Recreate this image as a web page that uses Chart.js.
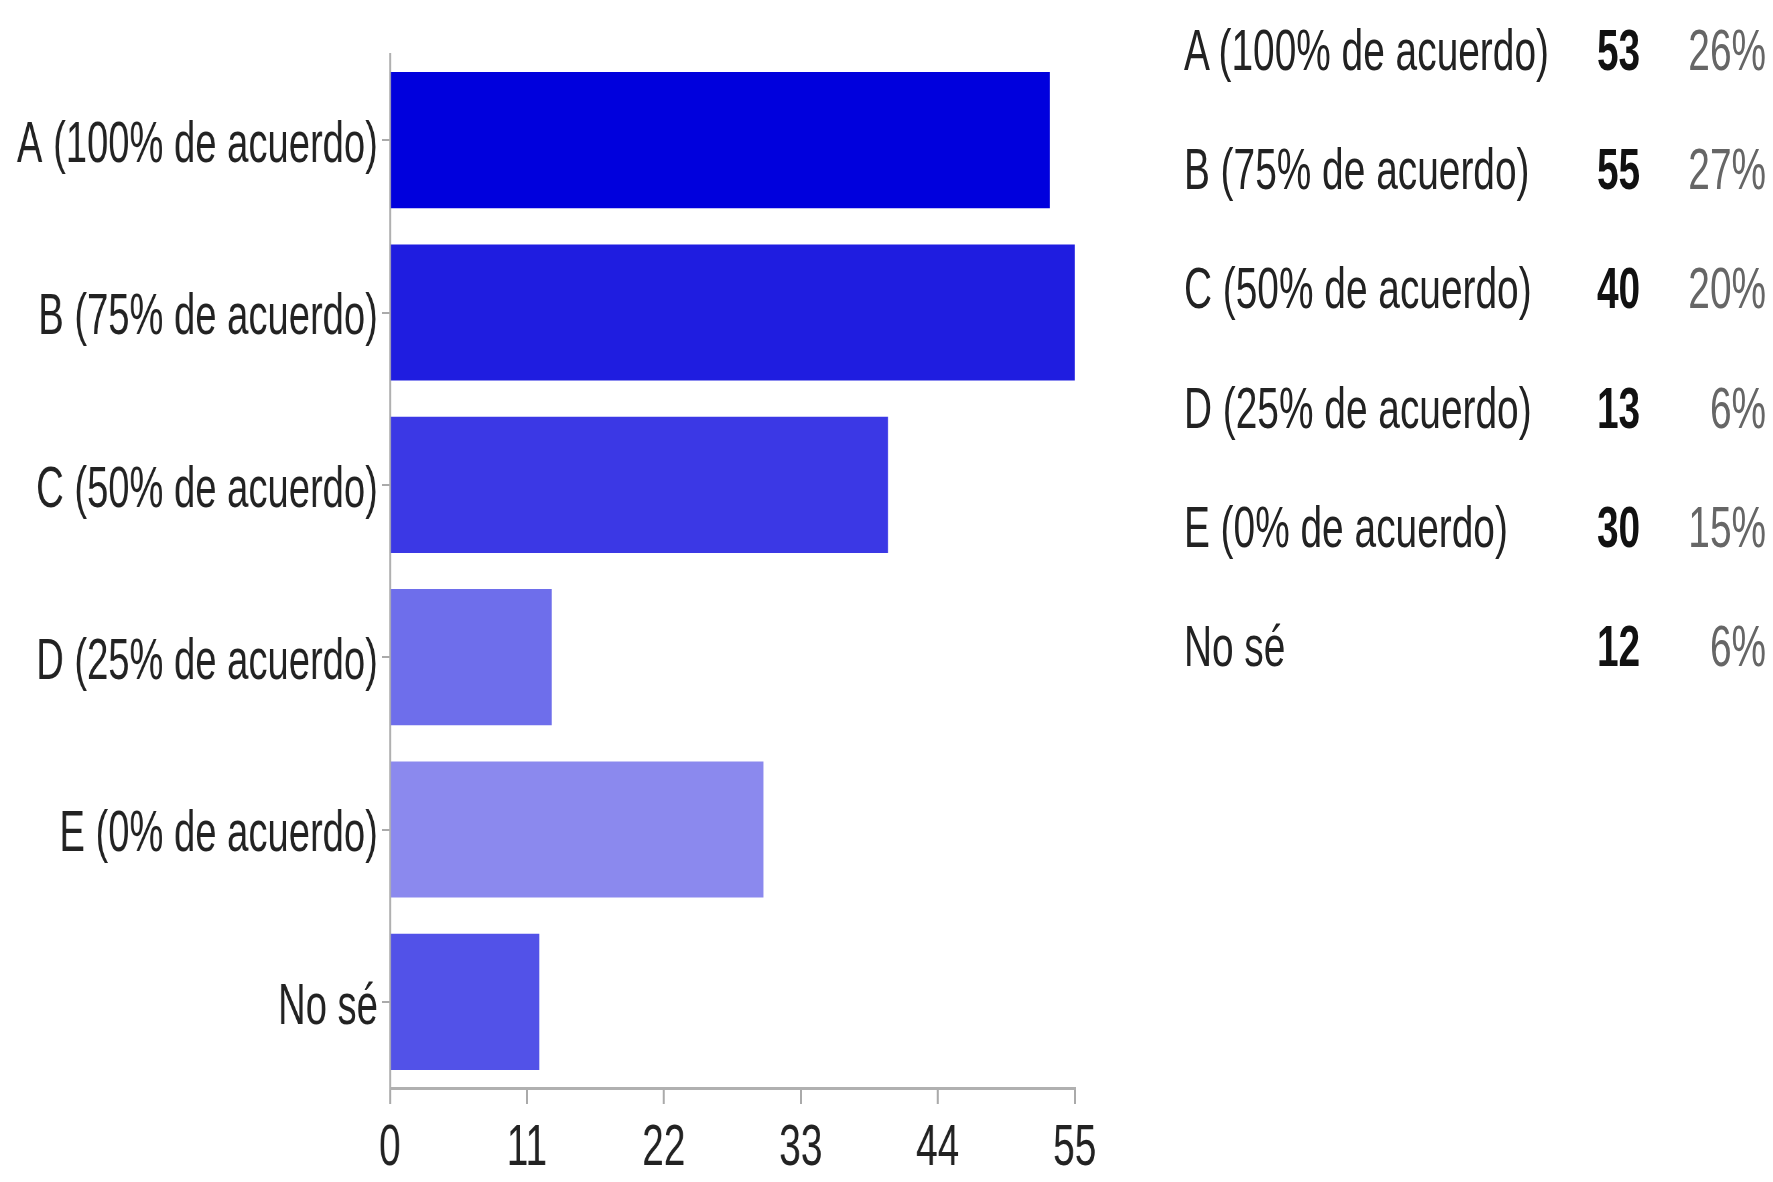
<!DOCTYPE html>
<html>
<head>
<meta charset="utf-8">
<script src="https://cdn.jsdelivr.net/npm/chart.js@4.4.0/dist/chart.umd.min.js"></script>
<style>
html, body { margin:0; padding:0; background:#fff; overflow:hidden; }
#page { position:absolute; left:0; top:0; width:2646px; height:1182px; transform:scaleX(0.67); transform-origin:0 0; font-family:"Liberation Sans", Arial, sans-serif; }
#myChart { position:absolute; left:0; top:0; }
.cell { position:absolute; height:70px; line-height:70px; font-size:58px; white-space:nowrap; }
.lbl { color:#222; }
.cnt { color:#111; font-weight:bold; text-align:right; width:148px; }
.pct { color:#666; text-align:right; width:156px; }
</style>
</head>
<body>
<div id="page">
    <canvas id="myChart" width="1700" height="1182"></canvas>
    <div id="table"></div>
</div>
<script>
var labels = ['A (100% de acuerdo)', 'B (75% de acuerdo)', 'C (50% de acuerdo)', 'D (25% de acuerdo)', 'E (0% de acuerdo)', 'No sé'];
var counts = [53, 55, 40, 13, 30, 12];
var percents = ['26%', '27%', '20%', '6%', '15%', '6%'];
var barColors = ['#0000dd', '#1f1de0', '#3b38e5', '#6e6eeb', '#8b89ee', '#5252e8'];
var xTicks = [0, 11, 22, 33, 44, 55];

var fontFamily = '"Liberation Sans", Arial, sans-serif';
var myChart;

function buildTable() {
    var table = document.getElementById('table');
    for (var i = 0; i < labels.length; i++) {
        var top = 50 + i * 119.2 - 35;
        table.innerHTML +=
              '<div class="cell lbl" style="left:1767px;top:' + top + 'px">' + labels[i] + '</div>'
            + '<div class="cell cnt" style="left:2300px;top:' + top + 'px">' + counts[i] + '</div>'
            + '<div class="cell pct" style="left:2480px;top:' + top + 'px">' + percents[i] + '</div>';
    }
}

function showChart() {
    var ctx = document.getElementById('myChart');
    myChart = new Chart(ctx, {
        type: 'bar',
        data: {
            labels: labels,
            datasets: [{
                data: counts,
                backgroundColor: barColors,
                borderWidth: 0,
                barPercentage: 0.79,
                categoryPercentage: 1
            }]
        },
        options: {
            indexAxis: 'y',
            responsive: false,
            animation: false,
            devicePixelRatio: 1,
            layout: { padding: { top: 54, right: 96, left: 0, bottom: 0 } },
            plugins: { legend: { display: false }, tooltip: { enabled: false } },
            scales: {
                x: {
                    min: 0,
                    max: 55,
                    afterBuildTicks: function(scale) {
                        scale.ticks = xTicks.map(function(v) { return { value: v }; });
                    },
                    afterFit: function(scale) { scale.height = 94; },
                    grid: { drawOnChartArea: false, drawTicks: true, tickLength: 16, color: '#aaa', lineWidth: 3 },
                    border: { color: '#b0b0b0', width: 3 },
                    ticks: { font: { size: 58, family: fontFamily }, color: '#222', padding: 10, maxRotation: 0, autoSkip: false }
                },
                y: {
                    afterFit: function(scale) { scale.width = 582; },
                    grid: { drawOnChartArea: false, offset: false, tickLength: 12, color: '#aaa', lineWidth: 2 },
                    border: { color: '#b0b0b0', width: 3 },
                    ticks: { font: { size: 57, family: fontFamily }, color: '#222', padding: 6, labelOffset: 6 }
                }
            }
        }
    });
}

buildTable();
showChart();
</script>
</body>
</html>
